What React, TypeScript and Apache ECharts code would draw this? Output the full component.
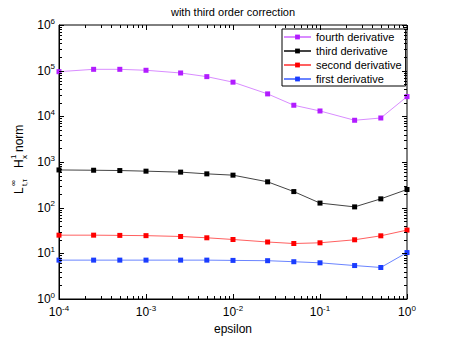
import React, { useEffect, useRef } from "react";
import * as echarts from "echarts";

const epsilon = [1e-4, 2.5e-4, 5e-4, 1e-3, 2.5e-3, 5e-3, 1e-2, 2.5e-2, 5e-2, 1e-1, 2.5e-1, 5e-1, 1];
const fourthDerivative = [95000, 107000, 107000, 102000, 89000, 74000, 56000, 31000, 17500, 13100, 8200, 9200, 27000];
const thirdDerivative = [670, 660, 650, 630, 600, 550, 515, 368, 225, 126, 104, 156, 250];
const secondDerivative = [25, 25, 24.7, 24.4, 23.4, 21.9, 20.1, 17.7, 16.4, 17.0, 19.8, 24.2, 32.3];
const firstDerivative = [7.1, 7.1, 7.1, 7.1, 7.1, 7.1, 7.0, 6.9, 6.55, 6.2, 5.4, 4.9, 10.4];

const xDecades = [-4, -3, -2, -1, 0];
const yDecades = [0, 1, 2, 3, 4, 5, 6];
const legendNames = ["fourth derivative", "third derivative", "second derivative", "first derivative"];

const FONT = "Liberation Sans";

function buildTicks(decades: number[]) {
  const out: number[][] = [];
  decades.forEach((d, i) => {
    out.push([Math.pow(10, d), 1]);
    if (i < decades.length - 1) {
      for (let m = 2; m <= 9; m++) out.push([m * Math.pow(10, d), 0]);
    }
  });
  return out;
}

const expLabel = (v: number) => `{b|10}{s|${Math.round(Math.log10(v))}}`;
const rich = {
  b: { fontSize: 12, lineHeight: 16, fontFamily: FONT, color: "#000" },
  s: { fontSize: 8, lineHeight: 6, verticalAlign: "top", fontFamily: FONT, color: "#000" },
};

export default function App() {
  const ref = useRef<HTMLDivElement>(null);
  useEffect(() => {
    if (!ref.current) return;
    const chart = echarts.init(ref.current, undefined, { renderer: "svg" });
    const mk = (name: string, ys: number[], mColor: string, lColor: string) => ({
      name,
      type: "line",
      data: epsilon.map((x, i) => [x, ys[i]]),
      symbol: "rect",
      symbolSize: 5,
      showSymbol: true,
      itemStyle: { color: mColor },
      lineStyle: { color: lColor, width: 1 },
      z: 3,
    });
    const xTicks = buildTicks(xDecades);
    const yTicks = buildTicks(yDecades);
    const option: any = {
      animation: false,
      textStyle: { fontFamily: FONT },
      title: {
        text: "with third order correction",
        left: 233,
        top: 6,
        padding: 0,
        textAlign: "center",
        textStyle: { fontSize: 11, fontWeight: "normal", color: "#000", fontFamily: FONT },
      },
      grid: {
        left: 59,
        right: 43,
        top: 25,
        bottom: 38,
        show: true,
        borderColor: "#000",
        borderWidth: 1,
        backgroundColor: "transparent",
        containLabel: false,
        outerBoundsMode: "none",
      },
      legend: {
        orient: "vertical",
        left: 282,
        top: 29,
        data: legendNames,
        backgroundColor: "#fff",
        borderColor: "#000",
        borderWidth: 1,
        borderRadius: 0,
        padding: [2, 4, 1, 1],
        itemWidth: 27,
        itemHeight: 6,
        itemGap: 2,
        selectedMode: false,
        textStyle: { fontSize: 11, lineHeight: 12, color: "#000", fontFamily: FONT },
      },
      xAxis: {
        type: "log",
        logBase: 10,
        min: 1e-4,
        max: 1,
        name: "epsilon",
        nameLocation: "middle",
        nameGap: 23,
        nameTextStyle: { fontSize: 12, color: "#000", fontFamily: FONT },
        axisLine: { show: true, lineStyle: { color: "#000", width: 1 } },
        axisTick: { show: false },
        splitLine: { show: false },
        axisLabel: { margin: 5, formatter: expLabel, rich },
      },
      yAxis: {
        type: "log",
        logBase: 10,
        min: 1,
        max: 1e6,
        axisLine: { show: true, lineStyle: { color: "#000", width: 1 } },
        axisTick: { show: false },
        splitLine: { show: false },
        axisLabel: { margin: 4, formatter: expLabel, rich },
      },
      graphic: [
        {
          type: "group",
          x: 19,
          y: 194,
          rotation: Math.PI / 2,
          silent: true,
          children: [
            { type: "text", x: 0, y: 0, style: { text: "L", fontSize: 12, fontFamily: FONT, fill: "#000", align: "left", verticalAlign: "middle" } },
            { type: "text", x: 8, y: -6, style: { text: "∞", fontSize: 8, fontFamily: FONT, fill: "#000", align: "left", verticalAlign: "middle" } },
            { type: "text", x: 8, y: 5, style: { text: "t,τ", fontSize: 7, fontFamily: FONT, fill: "#000", align: "left", verticalAlign: "middle" } },
            { type: "text", x: 26, y: 0, style: { text: "H", fontSize: 12, fontFamily: FONT, fill: "#000", align: "left", verticalAlign: "middle" } },
            { type: "text", x: 35, y: -6, style: { text: "1", fontSize: 8, fontFamily: FONT, fill: "#000", align: "left", verticalAlign: "middle" } },
            { type: "text", x: 35, y: 5, style: { text: "x", fontSize: 8, fontFamily: FONT, fill: "#000", align: "left", verticalAlign: "middle" } },
            { type: "text", x: 42, y: 0, style: { text: "norm", fontSize: 12, fontFamily: FONT, fill: "#000", align: "left", verticalAlign: "middle" } },
          ],
        },
      ],
      series: [
        mk("first derivative", firstDerivative, "#1a3cff", "#6a84ff"),
        mk("second derivative", secondDerivative, "#ff0000", "#ff6060"),
        mk("third derivative", thirdDerivative, "#000000", "#444444"),
        mk("fourth derivative", fourthDerivative, "#b21cff", "#d98cff"),
        {
          type: "custom",
          name: "xticks",
          silent: true,
          clip: false,
          z: 4,
          data: xTicks,
          renderItem: (params: any, api: any) => {
            const p = api.coord([api.value(0), 1]);
            const cs = params.coordSys;
            const len = api.value(1) ? 5 : 3;
            const x = Math.round(p[0]) + 0.5;
            const b = cs.y + cs.height;
            return {
              type: "group",
              children: [
                { type: "line", shape: { x1: x, y1: b, x2: x, y2: b - len }, style: { stroke: "#000", lineWidth: 1 } },
                { type: "line", shape: { x1: x, y1: cs.y, x2: x, y2: cs.y + len }, style: { stroke: "#000", lineWidth: 1 } },
              ],
            };
          },
        },
        {
          type: "custom",
          name: "yticks",
          silent: true,
          clip: false,
          z: 4,
          encode: { x: 2, y: 0 },
          data: yTicks.map((t) => [t[0], t[1], 1e-4]),
          renderItem: (params: any, api: any) => {
            const p = api.coord([1e-4, api.value(0)]);
            const cs = params.coordSys;
            const len = api.value(1) ? 5 : 3;
            const y = Math.round(p[1]) + 0.5;
            const r = cs.x + cs.width;
            return {
              type: "group",
              children: [
                { type: "line", shape: { x1: cs.x, y1: y, x2: cs.x + len, y2: y }, style: { stroke: "#000", lineWidth: 1 } },
                { type: "line", shape: { x1: r, y1: y, x2: r - len, y2: y }, style: { stroke: "#000", lineWidth: 1 } },
              ],
            };
          },
        },
      ],
    };
    chart.setOption(option);
    return () => chart.dispose();
  }, []);
  return <div ref={ref} style={{ position: "absolute", left: 0, top: 0, width: 450, height: 337, background: "#fff" }} />;
}
